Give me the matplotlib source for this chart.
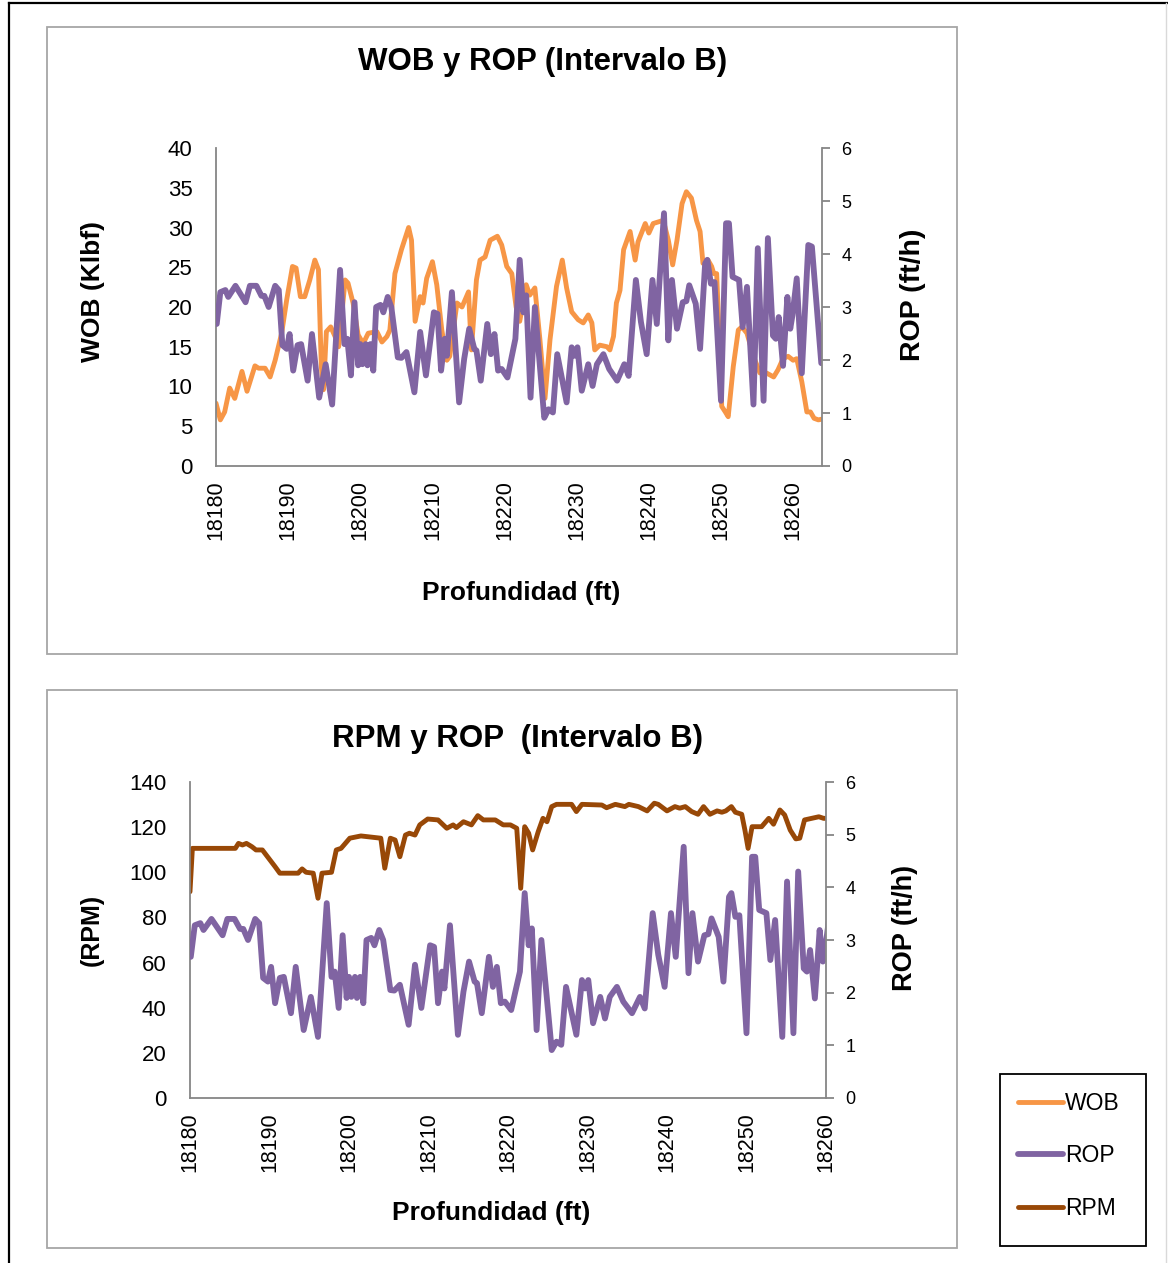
import numpy as np
import matplotlib
matplotlib.use('Agg')
import matplotlib.pyplot as plt
from matplotlib.patches import Rectangle
from matplotlib.lines import Line2D

plt.rcParams['font.family'] = ['Liberation Sans', 'DejaVu Sans']

# ROP (ft/h) vs profundidad (ft)
rop_depth = [18180.1, 18180.6, 18181.3, 18181.7, 18182.7, 18184.1, 18184.7, 18185.6, 18186.3, 18186.7,
             18187.3, 18188.2, 18188.7, 18189.2, 18189.8, 18190.2, 18190.7, 18191.3, 18191.8, 18192.7,
             18193.3, 18194.3, 18195.2, 18196.1, 18197.2, 18197.8, 18198.2, 18198.7, 18199.2, 18199.7,
             18200.0, 18200.3, 18200.75, 18201.0, 18201.4, 18201.8, 18202.2, 18202.8, 18203.2, 18203.8,
             18204.3, 18205.2, 18205.7, 18206.4, 18207.5, 18208.3, 18209.1, 18210.2, 18210.7, 18211.2,
             18211.7, 18212.0, 18212.7, 18213.7, 18214.4, 18215.1, 18215.8, 18216.1, 18216.7, 18217.6,
             18218.1, 18218.6, 18219.1, 18219.6, 18220.4, 18221.5, 18222.1, 18222.6, 18223.0, 18223.6,
             18224.2, 18225.5, 18226.1, 18226.7, 18227.3, 18228.6, 18229.3, 18229.7, 18230.1, 18230.7,
             18231.6, 18232.2, 18232.8, 18233.7, 18234.5, 18235.6, 18236.6, 18237.2, 18238.2, 18238.9,
             18239.7, 18240.5, 18241.1, 18241.5, 18242.1, 18242.7, 18243.2, 18243.9, 18244.7, 18245.2,
             18245.6, 18246.5, 18247.1, 18247.8, 18248.1, 18248.6, 18249.1, 18250.0, 18250.7, 18251.1,
             18251.6, 18252.5, 18253.0, 18253.6, 18254.5, 18255.1, 18255.9, 18256.5, 18257.2, 18257.6,
             18258.0, 18258.6, 18259.2, 18259.6, 18259.9, 18260.5, 18261.2, 18262.1, 18262.6, 18263.9]
rop = [2.68, 3.28, 3.32, 3.19, 3.40, 3.09, 3.40, 3.40, 3.21, 3.21,
       3.00, 3.40, 3.32, 2.28, 2.21, 2.49, 1.80, 2.28, 2.30, 1.61,
       2.49, 1.29, 1.92, 1.16, 3.70, 2.30, 2.40, 1.71, 3.09, 1.90,
       2.30, 1.92, 2.30, 1.90, 2.30, 1.80, 3.00, 3.04, 2.90, 3.19,
       3.00, 2.05, 2.04, 2.15, 1.39, 2.53, 1.71, 2.90, 2.87, 1.80,
       2.40, 2.08, 3.28, 1.20, 2.02, 2.59, 2.21, 2.18, 1.61, 2.68,
       2.11, 2.49, 1.80, 1.83, 1.67, 2.40, 3.89, 2.90, 3.22, 1.29,
       3.00, 0.91, 1.07, 1.01, 2.11, 1.20, 2.24, 2.08, 2.24, 1.42,
       1.92, 1.51, 1.92, 2.11, 1.83, 1.61, 1.92, 1.70, 3.51, 2.72,
       2.11, 3.51, 2.68, 3.54, 4.77, 2.37, 3.51, 2.59, 3.09, 3.11,
       3.41, 3.06, 2.21, 3.82, 3.89, 3.44, 3.47, 1.23, 4.58, 4.58,
       3.57, 3.51, 2.62, 3.38, 1.16, 4.11, 1.23, 4.30, 2.46, 2.40,
       2.81, 1.89, 3.19, 2.59, 2.84, 3.54, 1.75, 4.17, 4.14, 1.94]

# WOB (Klbf)
wob_depth = [18180.0, 18180.6, 18181.2, 18181.9, 18182.6, 18183.6, 18184.3, 18185.4, 18185.9, 18186.8,
             18187.5, 18188.2, 18189.1, 18189.8, 18190.6, 18191.1, 18191.7, 18192.3, 18193.0, 18193.7,
             18194.2, 18194.6, 18194.9, 18195.3, 18195.9, 18196.5, 18197.0, 18197.9, 18198.3, 18199.0,
             18199.7, 18200.4, 18201.1, 18202.3, 18203.0, 18203.7, 18204.1, 18204.8, 18205.7, 18206.7,
             18207.1, 18207.6, 18208.3, 18208.7, 18209.2, 18210.0, 18210.6, 18211.3, 18212.0, 18212.4,
             18213.4, 18214.1, 18215.0, 18215.4, 18216.1, 18216.6, 18217.3, 18218.0, 18219.0, 18219.6,
             18220.3, 18221.0, 18221.6, 18222.1, 18223.0, 18223.5, 18224.2, 18224.9, 18225.6, 18226.3,
             18227.2, 18228.0, 18228.6, 18229.3, 18230.2, 18230.9, 18231.6, 18232.1, 18232.5, 18233.2,
             18234.2, 18234.6, 18235.1, 18235.5, 18236.0, 18236.5, 18237.4, 18238.1, 18238.5, 18239.5,
             18240.0, 18240.6, 18241.3, 18242.0, 18242.7, 18243.3, 18243.9, 18244.6, 18245.2, 18245.9,
             18246.6, 18247.1, 18247.5, 18248.2, 18248.7, 18249.0, 18249.4, 18249.8, 18250.1, 18250.6,
             18251.0, 18251.7, 18252.4, 18252.9, 18253.6, 18254.5, 18255.4, 18256.3, 18257.3, 18257.9,
             18258.6, 18259.3, 18260.0, 18260.5, 18261.2, 18261.9, 18262.4, 18262.9, 18263.5, 18264.0]
wob = [7.9, 5.8, 6.8, 9.8, 8.5, 11.9, 9.4, 12.6, 12.3, 12.3,
       11.2, 13.3, 16.7, 20.9, 25.1, 24.9, 21.3, 21.3, 23.4, 25.9,
       24.7, 12.5, 9.6, 16.9, 17.5, 16.3, 15.0, 23.4, 23.0, 20.5,
       16.5, 15.4, 16.7, 16.9, 15.6, 16.3, 17.1, 24.2, 27.2, 30.0,
       28.4, 18.2, 21.3, 20.5, 23.6, 25.7, 22.8, 17.1, 13.3, 13.8,
       20.5, 20.0, 21.9, 14.6, 23.4, 25.9, 26.3, 28.4, 28.9, 27.8,
       25.1, 24.2, 20.0, 18.2, 22.8, 21.5, 22.4, 15.9, 8.5, 15.9,
       22.6, 25.9, 22.4, 19.4, 18.4, 18.0, 19.0, 18.0, 14.6, 15.2,
       15.0, 14.6, 16.3, 20.5, 22.1, 27.2, 29.5, 25.9, 28.2, 30.5,
       29.3, 30.5, 30.7, 30.9, 28.4, 25.3, 28.4, 33.0, 34.5, 33.7,
       30.9, 29.5, 25.5, 25.9, 25.1, 24.2, 24.2, 15.0, 7.5, 6.8,
       6.2, 12.5, 17.1, 17.5, 16.7, 13.8, 11.7, 11.7, 11.2, 12.1,
       13.5, 13.8, 13.3, 13.5, 10.6, 6.8, 6.8, 6.0, 5.8, 5.9]

# RPM
rpm_depth = [18180.0, 18180.3, 18181.9, 18185.7, 18186.1, 18186.6, 18187.1, 18187.8, 18188.3, 18189.1,
             18189.9, 18190.7, 18191.3, 18193.6, 18194.1, 18194.6, 18195.5, 18196.1, 18196.6, 18197.8,
             18198.4, 18199.0, 18200.1, 18201.5, 18204.0, 18204.5, 18205.2, 18205.8, 18206.4, 18207.1,
             18207.6, 18208.3, 18208.9, 18209.9, 18211.2, 18212.3, 18213.1, 18213.5, 18214.4, 18215.4,
             18216.2, 18216.9, 18218.4, 18219.4, 18220.3, 18221.1, 18221.6, 18222.1, 18222.6, 18223.1,
             18223.8, 18224.4, 18224.9, 18225.5, 18226.1, 18228.0, 18228.6, 18229.3, 18231.8, 18232.4,
             18233.5, 18234.7, 18235.2, 18236.4, 18237.5, 18238.4, 18238.9, 18240.0, 18241.0, 18241.6,
             18242.3, 18243.1, 18243.9, 18244.6, 18245.4, 18246.3, 18246.9, 18247.4, 18248.1, 18248.6,
             18249.4, 18249.8, 18250.2, 18250.7, 18251.9, 18252.8, 18253.4, 18254.2, 18254.8, 18255.5,
             18256.2, 18256.7, 18257.3, 18258.2, 18259.1, 18259.7, 18260.0]
rpm = [91.4, 110.6, 110.6, 110.6, 112.8, 112.1, 112.8, 111.3, 109.9, 109.9,
       106.2, 102.5, 99.6, 99.6, 101.5, 100.0, 99.6, 88.5, 99.6, 100.0,
       109.9, 110.6, 115.1, 116.1, 115.1, 101.8, 115.1, 114.3, 106.9, 116.5,
       117.3, 116.5, 121.0, 123.6, 123.2, 119.5, 121.0, 119.8, 122.4, 121.0,
       125.1, 123.2, 123.2, 121.0, 121.0, 119.5, 92.9, 120.2, 117.3, 109.9,
       118.0, 123.9, 122.4, 129.1, 130.1, 130.1, 126.9, 130.1, 129.8, 128.6,
       130.1, 129.1, 130.1, 129.1, 127.2, 130.6, 130.1, 127.2, 129.1, 128.4,
       129.1, 126.9, 125.7, 129.1, 125.7, 127.2, 126.6, 127.2, 129.1, 126.6,
       125.7, 118.7, 110.6, 120.2, 120.2, 123.9, 121.3, 127.6, 125.4, 118.7,
       114.8, 115.1, 123.2, 123.9, 124.6, 123.9, 123.9]

depth_ticks = np.arange(18180, 18261, 10)

c_wob = '#F79646'
c_rop = '#8064A2'
c_rpm = '#984807'
c_axis = '#868686'

W, H = 1168, 1263
fig = plt.figure(figsize=(W / 100, H / 100), dpi=100)


def px(x, y):
    return x / W, 1 - y / H


def box(x0, y0, x1, y1, color, lw):
    fig.patches.append(Rectangle(px(x0, y1), (x1 - x0) / W, (y1 - y0) / H,
                                 transform=fig.transFigure, fill=False,
                                 edgecolor=color, linewidth=lw))


def style_axes(ax, axr):
    for a in (ax, axr):
        a.spines['top'].set_visible(False)
        for s in ('left', 'right', 'bottom'):
            a.spines[s].set_color(c_axis)
            a.spines[s].set_linewidth(1.3)
    ax.spines['right'].set_visible(False)
    axr.spines['left'].set_visible(False)
    axr.spines['bottom'].set_visible(False)
    ax.tick_params(axis='y', length=0, pad=17, labelsize=16)
    ax.tick_params(axis='x', length=0, pad=10, labelsize=15.5, rotation=90)
    axr.tick_params(axis='y', length=6, width=1.3, color=c_axis, pad=8, labelsize=13)
    ax.set_xticks(depth_ticks)
    ax.set_xticklabels([str(d) for d in depth_ticks])
    axr.set_ylim(0, 6)
    axr.set_yticks(range(0, 7))


# marco exterior y recuadros
fig.add_artist(Line2D([9 / W, 9 / W], [0, 1 - 3 / H], color='black', lw=1.6, transform=fig.transFigure))
fig.add_artist(Line2D([9 / W, 1], [1 - 3 / H, 1 - 3 / H], color='black', lw=1.6, transform=fig.transFigure))
fig.add_artist(Line2D([1166 / W, 1166 / W], [0, 1 - 3 / H], color='#d9d9d9', lw=1, transform=fig.transFigure))
box(47, 27, 957, 654, '#a6a6a6', 1.3)
box(47, 690, 957, 1248, '#a6a6a6', 1.3)
box(1000, 1074, 1146, 1246, 'black', 1.3)

# ---- WOB y ROP ----
ax1 = fig.add_axes([216 / W, 1 - 466 / H, (822 - 216) / W, (466 - 148) / H])
ax2 = ax1.twinx()
l_wob, = ax1.plot(wob_depth, wob, color=c_wob, lw=3.5, solid_joinstyle='round', solid_capstyle='round')
ax2.plot(rop_depth, rop, color=c_rop, lw=4.2, solid_joinstyle='round', solid_capstyle='round')
ax1.set_xlim(18180, 18264)
ax1.set_ylim(0, 40)
ax1.set_yticks(range(0, 41, 5))
style_axes(ax1, ax2)

fig.text(*px(543, 62), 'WOB y ROP (Intervalo B)', ha='center', va='center', fontsize=22.5, fontweight='bold')
fig.text(*px(93, 291), 'WOB (Klbf)', ha='center', va='center', rotation=90, fontsize=19, fontweight='bold')
fig.text(*px(913, 295), 'ROP (ft/h)', ha='center', va='center', rotation=90, fontsize=20.5, fontweight='bold')
fig.text(*px(521, 593), 'Profundidad (ft)', ha='center', va='center', fontsize=19, fontweight='bold')

# ---- RPM y ROP ----
ax3 = fig.add_axes([190 / W, 1 - 1098 / H, (826 - 190) / W, (1098 - 782) / H])
ax4 = ax3.twinx()
l_rpm, = ax3.plot(rpm_depth, rpm, color=c_rpm, lw=3.5, solid_joinstyle='round', solid_capstyle='round')
l_rop, = ax4.plot(rop_depth, rop, color=c_rop, lw=4.2, solid_joinstyle='round', solid_capstyle='round')
ax3.set_xlim(18180, 18260)
ax3.set_ylim(0, 140)
ax3.set_yticks(range(0, 141, 20))
style_axes(ax3, ax4)

fig.text(*px(518, 739), 'RPM y ROP  (Intervalo B)', ha='center', va='center', fontsize=22.5, fontweight='bold')
fig.text(*px(92, 930), '(RPM)', ha='center', va='center', rotation=90, fontsize=18, fontweight='bold')
fig.text(*px(905, 928), 'ROP (ft/h)', ha='center', va='center', rotation=90, fontsize=19.5, fontweight='bold')
fig.text(*px(491, 1213), 'Profundidad (ft)', ha='center', va='center', fontsize=19, fontweight='bold')

fig.legend([l_wob, l_rop, l_rpm], ['WOB', 'ROP', 'RPM'],
           loc='upper left', bbox_to_anchor=px(1000, 1074), bbox_transform=fig.transFigure,
           fontsize=16.5, frameon=False, handlelength=1.95, handletextpad=0.1,
           labelspacing=1.27, borderpad=0.8, borderaxespad=0)

fig.savefig('out.png', dpi=100)
